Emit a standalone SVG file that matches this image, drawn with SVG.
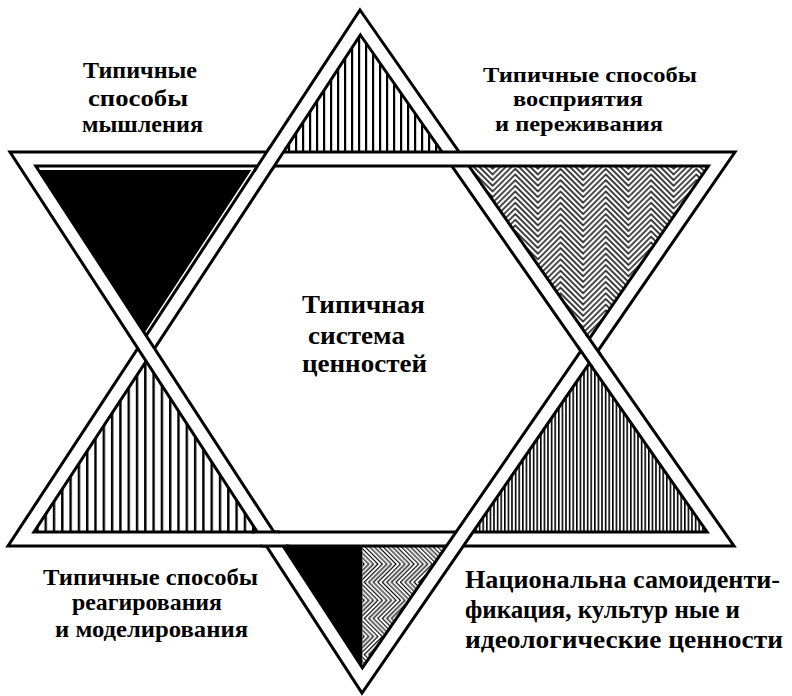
<svg xmlns="http://www.w3.org/2000/svg" width="792" height="696" viewBox="0 0 792 696">
<defs>
<style>
.band{fill:#fff;fill-rule:evenodd;stroke:#000;stroke-width:3;stroke-linejoin:miter;stroke-miterlimit:10}
.edge{fill:none;stroke:#000;stroke-width:3}
.patch{fill:#fff;stroke:none}
.lbl{font-family:"Liberation Serif","Times New Roman",serif;font-weight:bold;fill:#000}
.chl{fill:none;stroke:#000;stroke-width:1.4}
</style>
<pattern id="vTop" patternUnits="userSpaceOnUse" x="1" y="0" width="7" height="10"><rect x="0" y="0" width="2.2" height="10" fill="#000"/></pattern>
<pattern id="vLeft" patternUnits="userSpaceOnUse" x="3" y="0" width="8.3" height="10"><rect x="0" y="0" width="2.4" height="10" fill="#000"/></pattern>
<pattern id="vRight" patternUnits="userSpaceOnUse" x="0" y="0" width="3.6" height="10"><rect x="0" y="0" width="1.6" height="10" fill="#000"/></pattern>
<pattern id="chev" patternUnits="userSpaceOnUse" width="64" height="64" patternTransform="translate(470,166) rotate(45)"><path class="chl" d="M2 32V2H32M6 32V6H32M10 32V10H32M14 32V14H32M18 32V18H32M22 32V22H32M26 32V26H32M30 32V30H32M34 64V34H64M38 64V38H64M42 64V42H64M46 64V46H64M50 64V50H64M54 64V54H64M58 64V58H64M62 64V62H64M62 0V30H32M58 0V26H32M54 0V22H32M50 0V18H32M46 0V14H32M42 0V10H32M38 0V6H32M34 0V2H32M30 32V62H0M26 32V58H0M22 32V54H0M18 32V50H0M14 32V46H0M10 32V42H0M6 32V38H0M2 32V34H0"/></pattern>
<pattern id="chev2" patternUnits="userSpaceOnUse" width="64" height="64" patternTransform="translate(362,546) rotate(-45) scale(0.8)"><path class="chl" d="M2 32V2H32M6 32V6H32M10 32V10H32M14 32V14H32M18 32V18H32M22 32V22H32M26 32V26H32M30 32V30H32M34 64V34H64M38 64V38H64M42 64V42H64M46 64V46H64M50 64V50H64M54 64V54H64M58 64V58H64M62 64V62H64M62 0V30H32M58 0V26H32M54 0V22H32M50 0V18H32M46 0V14H32M42 0V10H32M38 0V6H32M34 0V2H32M30 32V62H0M26 32V58H0M22 32V54H0M18 32V50H0M14 32V46H0M10 32V42H0M6 32V38H0M2 32V34H0"/></pattern>
</defs>
<rect width="792" height="696" fill="#fff"/>

<g id="points">
<polygon id="point-top" points="360.4,35 283.5,152 442,152" fill="url(#vTop)"/>
<polygon id="point-top-left" points="38.4,170 251.3,170 144.4,332.9" fill="#000"/>
<polygon id="point-top-right" points="468.9,166 708.4,166 589.3,338.7" fill="url(#chev)"/>
<polygon id="point-left" points="34,532 257.3,532 146.1,361.2" fill="url(#vLeft)"/>
<polygon id="point-right" points="473,532 707.1,532 589.4,363.2" fill="url(#vRight)"/>
<g id="point-bottom">
<polygon points="283.1,546 362.4,546 362.4,667.9" fill="#000"/>
<polygon points="362.4,546 446.4,546 362.4,667.9" fill="url(#chev2)"/>
</g>
</g>

<g id="connectors">
<path id="band-up" class="band" d="M360,10 L734,546 L8,546 Z M360.4,35 L707.1,532 L34,532 Z"/>
<path id="band-down" class="band" d="M10,152 L735,152 L362,693 Z M35.8,166 L708.4,166 L362.4,667.9 Z"/>
<g id="weave">
<polygon class="patch" points="268.7,149 285.5,149 272.3,169 255.6,169"/>
<path class="edge" d="M269.8,147.3 L254.5,170.7 M286.6,147.3 L271.2,170.7"/>
<polygon class="patch" points="587.5,336 599.7,353.5 591.2,365.8 579,348.3"/>
<path class="edge" d="M586.4,334.4 L600.8,355.1 M577.9,346.7 L592.3,367.4"/>
<polygon class="patch" points="253.7,532 277.5,532 286.6,546 262.8,546"/>
<path class="edge" d="M251.5,532 L279.7,532 M260.6,546 L288.8,546"/>
</g>
</g>

<g id="label-thinking" class="lbl" font-size="23">
<text x="83" y="78" textLength="114" lengthAdjust="spacingAndGlyphs">Типичные</text>
<text x="88" y="106" textLength="100" lengthAdjust="spacingAndGlyphs">способы</text>
<text x="82" y="132" textLength="121" lengthAdjust="spacingAndGlyphs">мышления</text>
</g>
<g id="label-perception" class="lbl" font-size="21">
<text x="483" y="82" textLength="214" lengthAdjust="spacingAndGlyphs">Типичные способы</text>
<text x="513" y="106" textLength="130" lengthAdjust="spacingAndGlyphs">восприятия</text>
<text x="495" y="131" textLength="168" lengthAdjust="spacingAndGlyphs">и переживания</text>
</g>
<g id="label-values" class="lbl" font-size="26">
<text x="302" y="313" textLength="123" lengthAdjust="spacingAndGlyphs">Типичная</text>
<text x="308" y="344" textLength="97" lengthAdjust="spacingAndGlyphs">система</text>
<text x="302" y="372" textLength="125" lengthAdjust="spacingAndGlyphs">ценностей</text>
</g>
<g id="label-reaction" class="lbl" font-size="23">
<text x="43" y="585" textLength="215" lengthAdjust="spacingAndGlyphs">Типичные способы</text>
<text x="72" y="610" textLength="150" lengthAdjust="spacingAndGlyphs">реагирования</text>
<text x="55" y="637" textLength="193" lengthAdjust="spacingAndGlyphs">и моделирования</text>
</g>
<g id="label-national" class="lbl" font-size="25">
<text x="465" y="588" textLength="315" lengthAdjust="spacingAndGlyphs">Национальна самоиденти-</text>
<text x="465" y="618" textLength="275" lengthAdjust="spacingAndGlyphs">фикация, культур ные и</text>
<text x="465" y="648" textLength="318" lengthAdjust="spacingAndGlyphs">идеологические ценности</text>
</g>
</svg>
